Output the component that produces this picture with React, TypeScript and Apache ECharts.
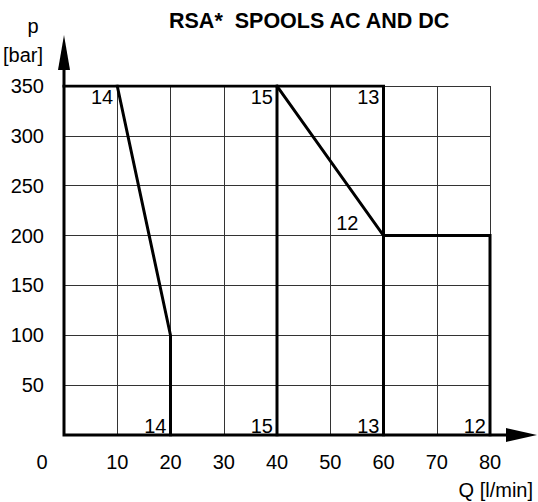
import React, { useEffect, useRef } from "react";
import * as echarts from "echarts";

const FONT = '"Liberation Sans", Arial, Helvetica, sans-serif';

const titleText = "RSA*  SPOOLS AC AND DC";
const yNameTop = "p";
const yNameBottom = "[bar]";
const xName = "Q [l/min]";

const xMin = 0;
const xMax = 80;
const xStep = 10;
const yMin = 0;
const yMax = 350;
const yStep = 50;

const curve14 = [[10, 350], [20, 100], [20, 0]];
const curve15 = [[0, 350], [40, 350], [40, 0]];
const curve13 = [[40, 350], [60, 350], [60, 0]];
const curve12 = [[40, 350], [60, 200], [80, 200], [80, 0]];

const topLabels = [
  { name: "14", value: [10, 350] },
  { name: "15", value: [40, 350] },
  { name: "13", value: [60, 350] },
];
const midLabels = [{ name: "12", value: [60, 200] }];
const bottomLabels = [
  { name: "14", value: [20, 0] },
  { name: "15", value: [40, 0] },
  { name: "13", value: [60, 0] },
  { name: "12", value: [80, 0] },
];

const curveSeries = (name: string, data: number[][]) => ({
  name,
  type: "line",
  data,
  showSymbol: false,
  symbol: "none",
  lineStyle: { color: "#000", width: 3, cap: "square", join: "miter" },
  z: 5,
  silent: true,
});

const labelSeries = (
  data: { name: string; value: number[] }[],
  pos: number[],
  vAlign: string
) => ({
  type: "scatter",
  data,
  symbolSize: 0,
  z: 6,
  silent: true,
  itemStyle: { opacity: 1, color: "#000" },
  label: {
    show: true,
    formatter: (p: any) => p.name,
    position: pos,
    align: "right",
    verticalAlign: vAlign,
    color: "#000",
    opacity: 1,
    fontSize: 20,
    fontFamily: FONT,
  },
});

export default function App() {
  const ref = useRef<HTMLDivElement>(null);
  useEffect(() => {
    if (!ref.current) return;
    const chart = echarts.init(ref.current, undefined, { renderer: "svg" });
    chart.setOption({
      animation: false,
      backgroundColor: "#fff",
      title: {
        text: titleText,
        left: 164,
        top: 5,
        textStyle: { fontSize: 21.5, fontWeight: "bold", color: "#000", fontFamily: FONT },
      },
      grid: { left: 64, right: 48, top: 86, bottom: 67 },
      xAxis: {
        type: "value",
        min: xMin,
        max: xMax,
        interval: xStep,
        axisLine: { show: false },
        axisTick: { show: false },
        splitLine: { show: true, lineStyle: { color: "#333", width: 1 } },
        axisLabel: {
          margin: 17,
          fontSize: 20,
          color: "#000",
          fontFamily: FONT,
          formatter: (v: number) => (v === 0 ? "{z|0}" : String(v)),
          rich: { z: { padding: [0, 44, 0, 0], fontSize: 20, fontFamily: FONT, color: "#000" } },
        },
      },
      yAxis: {
        type: "value",
        min: yMin,
        max: yMax,
        interval: yStep,
        axisLine: { show: false },
        axisTick: { show: false },
        splitLine: { show: true, lineStyle: { color: "#333", width: 1 } },
        axisLabel: {
          margin: 20,
          fontSize: 20,
          color: "#000",
          fontFamily: FONT,
          showMinLabel: false,
        },
      },
      series: [
        curveSeries("14", curve14),
        curveSeries("15", curve15),
        curveSeries("13", curve13),
        curveSeries("12", curve12),
        labelSeries(topLabels, [-4, 1], "top"),
        labelSeries(midLabels, [-25, -3], "bottom"),
        labelSeries(bottomLabels, [-4, 1], "bottom"),
      ],
    });

    const o = chart.convertToPixel({ gridIndex: 0 }, [xMin, yMin]) as number[];
    const t = chart.convertToPixel({ gridIndex: 0 }, [xMin, yMax]) as number[];
    const r = chart.convertToPixel({ gridIndex: 0 }, [xMax, yMin]) as number[];
    const yLineTop = t[1] - 16;
    const xLineEnd = r[0] + 16;
    chart.setOption({
      graphic: [
        {
          type: "polyline",
          z: 100,
          silent: true,
          shape: { points: [[o[0], yLineTop], [o[0], o[1]], [xLineEnd, o[1]]] },
          style: { stroke: "#000", lineWidth: 3, fill: null, lineJoin: "miter" },
        },
        {
          type: "polygon",
          z: 100,
          silent: true,
          shape: { points: [[o[0] - 6, yLineTop], [o[0] + 6, yLineTop], [o[0], yLineTop - 35]] },
          style: { fill: "#000" },
        },
        {
          type: "polygon",
          z: 100,
          silent: true,
          shape: { points: [[xLineEnd, o[1] - 7], [xLineEnd, o[1] + 7], [xLineEnd + 31, o[1]]] },
          style: { fill: "#000" },
        },
        {
          type: "text",
          z: 100,
          x: 33,
          y: 26,
          style: { text: yNameTop, fontSize: 20, fontFamily: FONT, fill: "#000", align: "center", verticalAlign: "middle" },
        },
        {
          type: "text",
          z: 100,
          x: 23,
          y: 55,
          style: { text: yNameBottom, fontSize: 20, fontFamily: FONT, fill: "#000", align: "center", verticalAlign: "middle" },
        },
        {
          type: "text",
          z: 100,
          x: 533,
          y: 490,
          style: { text: xName, fontSize: 20, fontFamily: FONT, fill: "#000", align: "right", verticalAlign: "middle" },
        },
      ],
    });
    return () => chart.dispose();
  }, []);
  return (
    <div
      ref={ref}
      style={{ position: "fixed", left: 0, top: 0, width: 538, height: 502 }}
    />
  );
}
